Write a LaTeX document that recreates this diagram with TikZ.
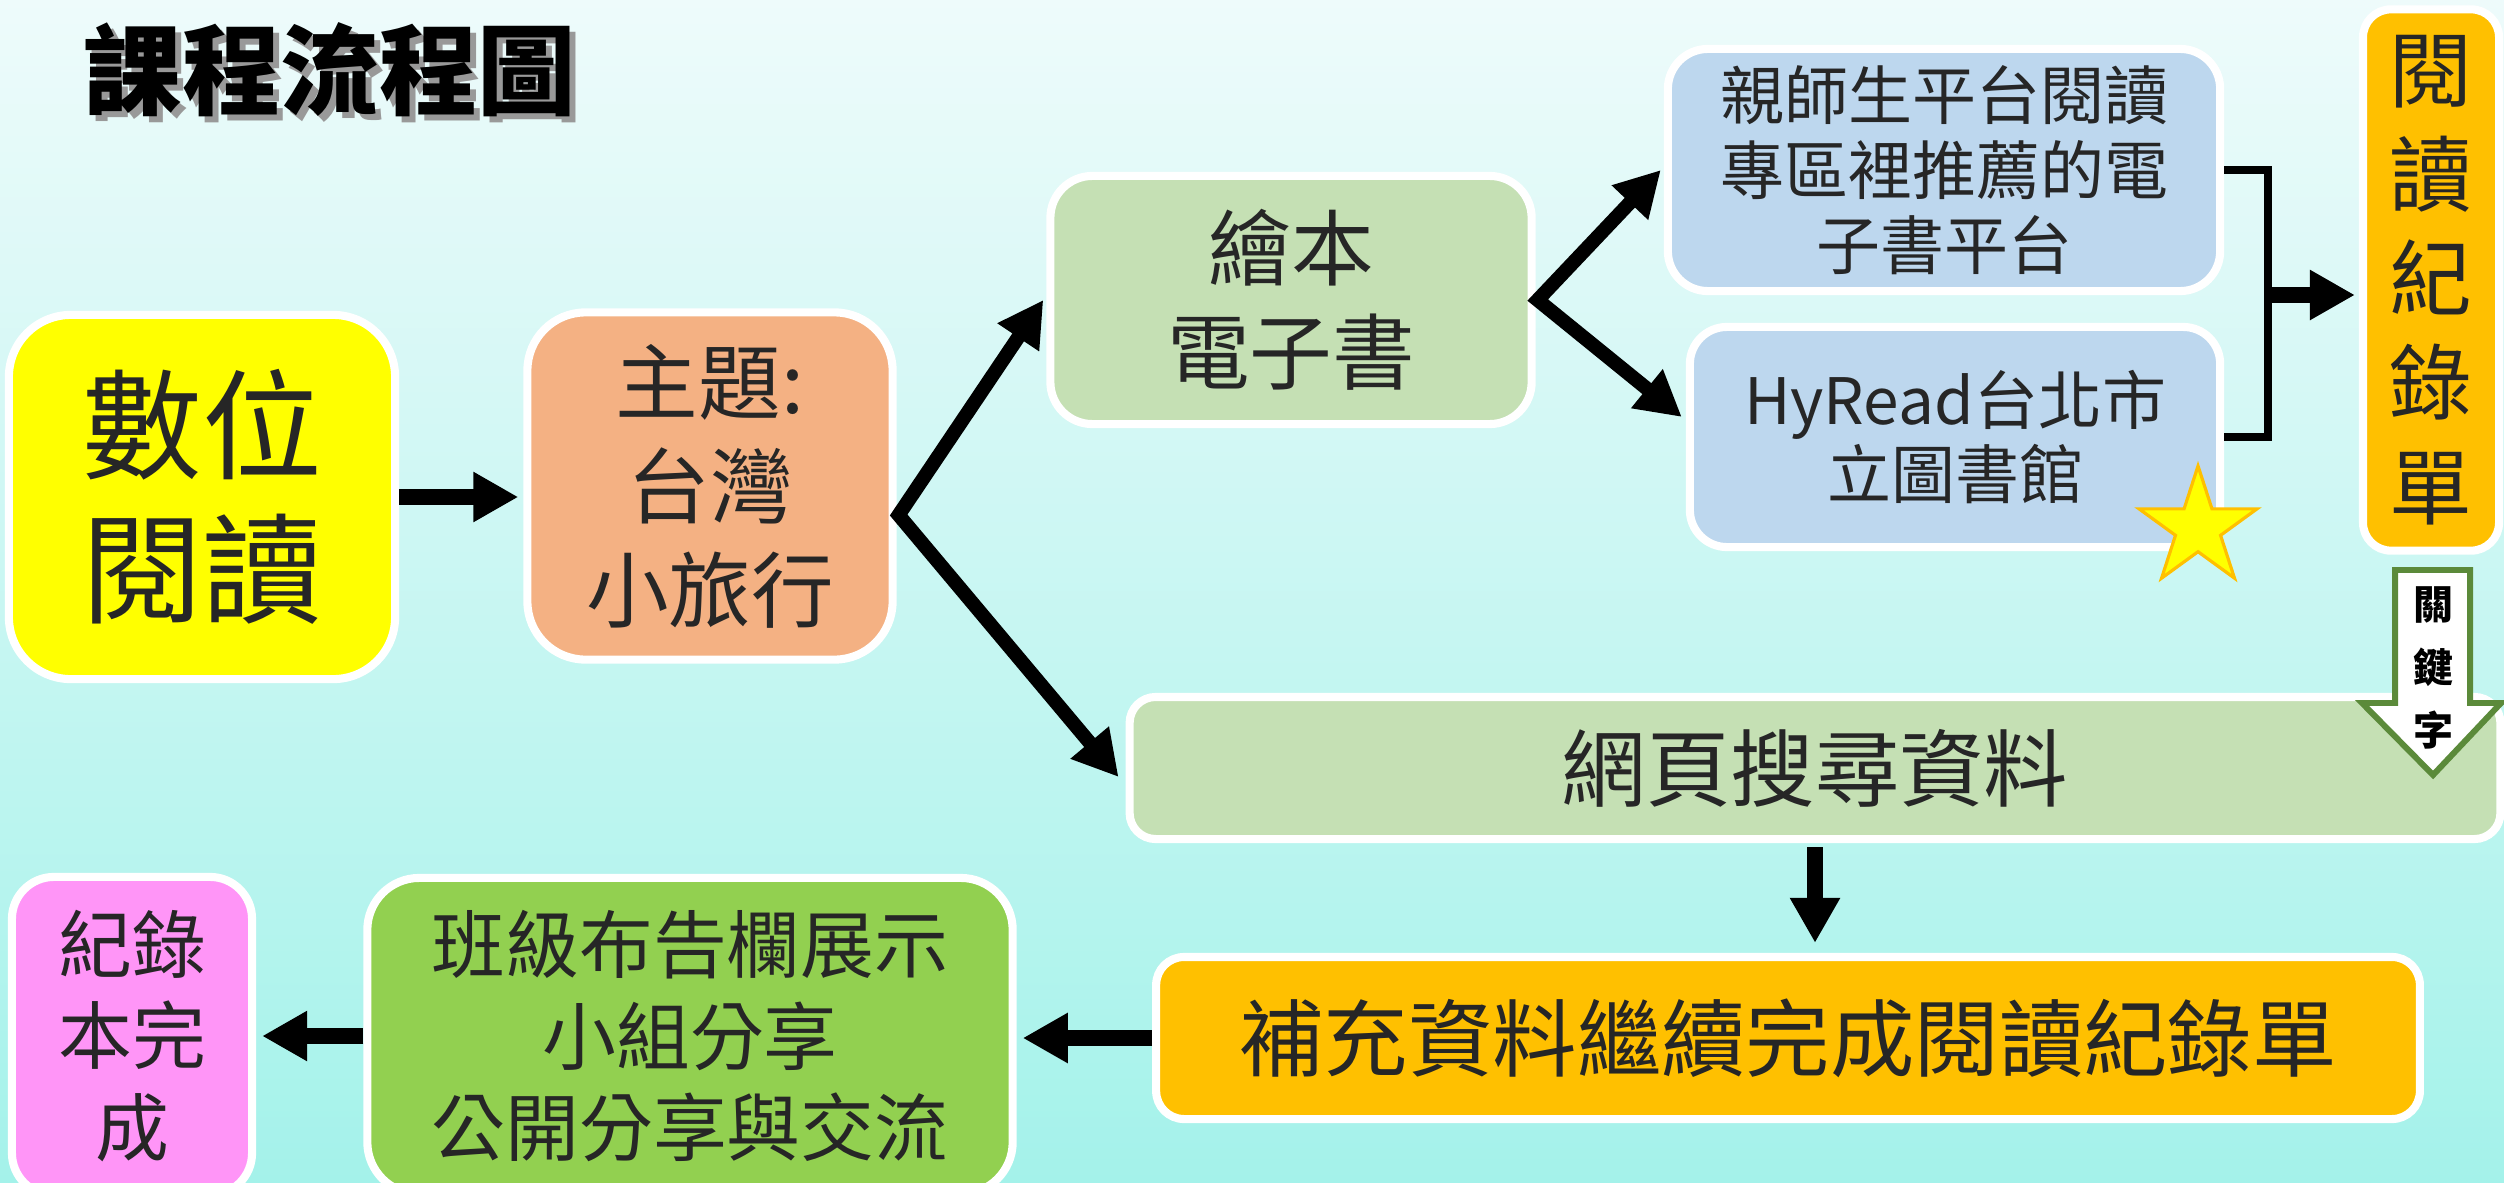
\documentclass[tikz,border=0pt]{standalone}
\usepackage{fontspec}
\usetikzlibrary{shapes.geometric,arrows.meta,calc}
\newfontfamily\cjk{Noto Sans CJK TC}
\definecolor{txt}{HTML}{262626}
\definecolor{cYel}{HTML}{FFFF00}
\definecolor{cOra}{HTML}{F4B183}
\definecolor{cGrn}{HTML}{C5E0B4}
\definecolor{cBlu}{HTML}{BDD7EE}
\definecolor{cGold}{HTML}{FFC000}
\definecolor{cLime}{HTML}{92D050}
\definecolor{cPink}{HTML}{FF95F7}
\definecolor{kGreen}{HTML}{5B8A3A}
\definecolor{bgTop}{HTML}{EEFBFB}
\definecolor{bgMid}{HTML}{C8F6F1}
\definecolor{bgBot}{HTML}{A4F2EA}
\tikzset{
  box/.style={draw=white, line width=2.3pt, rounded corners=#1, align=center, inner sep=0pt, text=txt},
  fs/.style 2 args={font=\cjk\fontsize{#1}{#2}\selectfont},
  arr/.style={line width=4.5pt, -{Triangle[width=13.4pt,length=12.8pt]}},
  darr/.style={line width=4pt, miter limit=10, {Triangle[width=13.4pt,length=12.8pt]}-{Triangle[width=13.4pt,length=12.8pt]}},
  brk/.style={line width=2.3pt},
  ttl/.style={font=\cjk\bfseries\fontsize{28}{34}\selectfont, inner sep=0pt},
}
\begin{document}
\begin{tikzpicture}[x=0.01cm,y=-0.01cm]
\useasboundingbox (0,0) rectangle (2504,1182);
\shade[top color=bgTop, middle color=bgMid, bottom color=bgBot] (0,0) rectangle (2504,1182);

% title with drop shadow
\node[ttl, text=black!40] (tshadow) at (336,76) {課程流程圖};
\node[ttl, text=black] (title) at (330,70) {課程流程圖};

% boxes
\node[box=0.62cm, fill=cYel, minimum width=3.86cm, minimum height=3.64cm, fs={34}{41}] (A) at (202,497) {數位\\閱讀};
\node[box=0.58cm, fill=cOra, minimum width=3.65cm, minimum height=3.47cm, fs={23.5}{29.6}] (B) at (710,486) {主題:\\台灣\\小旅行};
\node[box=0.42cm, fill=cGrn, minimum width=4.81cm, minimum height=2.48cm, fs={23.5}{29.6}] (C) at (1291,300) {繪本\\電子書};
\node[box=0.40cm, fill=cBlu, minimum width=5.52cm, minimum height=2.42cm, fs={18.2}{21.3}] (D) at (1944,170) {親師生平台閱讀\\專區裡推薦的電\\子書平台};
\node[box=0.37cm, fill=cBlu, minimum width=5.30cm, minimum height=2.20cm, fs={18.2}{21.3}] (E) at (1955,437) {HyRead台北市\\立圖書館};
\node[box=0.28cm, fill=cGold, minimum width=1.36cm, minimum height=5.41cm, fs={23.5}{29.6}] (F) at (2431,280) {閱\\讀\\紀\\錄\\單};
\node[box=0.26cm, fill=cGrn, minimum width=13.70cm, minimum height=1.42cm, fs={24}{29}] (G) at (1815,768) {網頁搜尋資料};
\node[box=0.28cm, fill=cGold, minimum width=12.63cm, minimum height=1.62cm, fs={24}{29}] (H) at (1788,1038) {補充資料繼續完成閱讀紀錄單};
\node[box=0.52cm, fill=cLime, minimum width=6.45cm, minimum height=3.16cm, fs={21}{26}] (I) at (690,1036) {班級布告欄展示\\小組分享\\公開分享與交流};
\node[box=0.42cm, fill=cPink, minimum width=2.40cm, minimum height=3.18cm, fs={21}{26}] (J) at (132,1036) {紀錄\\本完\\成};

% star
\node[star, star points=5, star point ratio=2.618, minimum size=1.24cm, inner sep=0pt, fill=cYel, draw=cGold, line width=0.9pt] (S) at (2198,528) {};

% keyword arrow
\draw[fill=white, draw=kGreen, line width=1.7pt] (2395,570) -- (2470,570) -- (2470,703) -- (2501,703) -- (2433,775) -- (2362,703) -- (2395,703) -- cycle;
\node[font=\cjk\bfseries\fontsize{11.4}{18}\selectfont, align=center, text=black, inner sep=0pt] (K) at (2433,668) {關\\鍵\\字};

% connectors
\coordinate (Bx) at ($(B.east)+(2,29)$);
\coordinate (Cx) at ($(C.east)+(2,0)$);
\coordinate (Bk) at (2268,295);
\draw[arr] (A.east) -- ([xshift=-0.05cm]A.east -| B.west);
\draw[darr] ([xshift=-0.03cm]C.west) -- (Bx) -- ([xshift=-0.07cm,yshift=-0.09cm]G.west);
\draw[darr] ([xshift=-0.03cm]D.west) -- (Cx) -- ([xshift=-0.04cm,yshift=0.2cm]E.west);
\draw[brk] (D.east) -| (Bk) |- (E.east);
\draw[arr] (Bk) -- ([xshift=-0.04cm]Bk -| F.west);
\draw[arr] ([yshift=-0.04cm]G.south) -- ([yshift=0.1cm]G.south |- H.north);
\draw[arr] (H.west) -- ([xshift=0.06cm]H.west -| I.east);
\draw[arr] (I.west) -- ([xshift=0.06cm]I.west -| J.east);
\end{tikzpicture}
\end{document}
